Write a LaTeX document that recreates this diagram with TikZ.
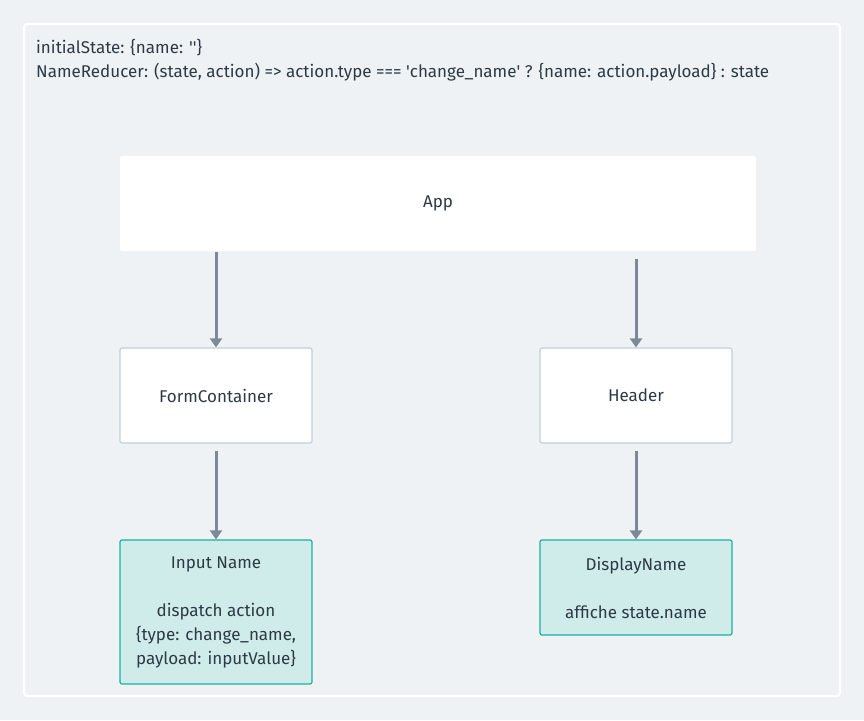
\documentclass[tikz,border=0pt]{standalone}
\usepackage{fontspec}
\setmainfont{Fira Sans}
\usetikzlibrary{arrows.meta}

\definecolor{pagebg}{HTML}{EEF2F5}
\definecolor{inkdark}{HTML}{2D3A45}
\definecolor{boxline}{HTML}{C3CED8}
\definecolor{tealline}{HTML}{1BB19E}
\definecolor{tealfill}{HTML}{CFECEA}
\definecolor{linkgrey}{HTML}{7B8998}

\newcommand{\sq}{\textquotesingle}

\tikzset{
    comp/.style={draw=boxline, line width=1.2pt, fill=white, rounded corners=2pt,
        minimum width=192pt, minimum height=95pt, text=inkdark, align=center,
        font=\fontsize{17}{24}\selectfont},
    leaf/.style={comp, draw=tealline, fill=tealfill},
    link/.style={draw=linkgrey, line width=3pt, -{Triangle[width=12pt,length=9pt]}}
}

\begin{document}
\begin{tikzpicture}[x=1pt, y=-1pt]
    \useasboundingbox (0,0) rectangle (864,720);
    \fill[pagebg] (0,0) rectangle (864,720);
        %draw outer frame
    \draw[white, line width=2pt, rounded corners=3pt] (24,24) rectangle (840,696);
        %draw reducer note
    \node (note) at (36,39) [anchor=north west, inner sep=0pt, align=left, text=inkdark,
        font=\fontsize{17}{24}\selectfont]
        {initialState: \{name: \sq\sq\}\\
         NameReducer: (state, action) => action.type === \sq change\_name\sq{} ? \{name: action.payload\} : state};

        %draw components
    \node[comp, draw=none, minimum width=636pt] (app) at (438,203.5) {App};
    \node[comp] (form) at (216,395.5) {FormContainer};
    \node[comp] (header) at (636,395.5) {Header};
    \node[leaf, minimum height=144pt] (input) at (216,612)
        {Input Name\\[24pt]dispatch action\\\{type: change\_name,\\ payload: inputValue\}};
    \node[leaf] (display) at (636,587.5) {DisplayName\\[24pt]affiche state.name};

        %draw links
    \draw[link] (app.south -| form) -- (form);
    \draw[link, shorten <=7pt] (app.south -| header) -- (header);
    \draw[link, shorten <=7pt] (form) -- (input);
    \draw[link, shorten <=7pt] (header) -- (display);
\end{tikzpicture}
\end{document}
